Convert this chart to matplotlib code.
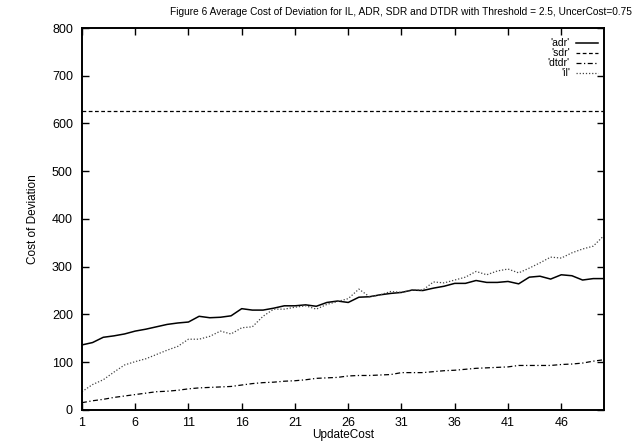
# plot.py
# Figura 6: costo promedio de desviación para IL, ADR, SDR y DTDR

import matplotlib
matplotlib.use("Agg")
import matplotlib.pyplot as plt

plt.rcParams["font.family"] = ["Liberation Sans", "DejaVu Sans"]

# ─── Datos ────────────────────────────────────────────────────────────────────

update_cost = list(range(1, 51))

adr = [136, 141, 152, 155, 159, 165, 169, 174, 179, 182,
       184, 196, 193, 194, 197, 212, 209, 209, 213, 218,
       218, 220, 217, 225, 228, 225, 236, 237, 241, 244,
       246, 251, 250, 255, 259, 265, 265, 271, 267, 267,
       269, 264, 278, 280, 274, 283, 281, 272, 275, 275]

sdr = [627] * 50

dtdr = [15, 19, 22, 26, 29, 32, 35, 38, 39, 41,
        44, 46, 47, 48, 49, 52, 55, 57, 58, 60,
        61, 63, 66, 67, 68, 71, 72, 72, 73, 74,
        78, 78, 78, 80, 82, 83, 85, 87, 88, 89,
        90, 93, 93, 93, 93, 95, 96, 98, 102, 105]

il = [38, 53, 63, 79, 94, 101, 107, 116, 125, 133,
      148, 148, 154, 165, 159, 172, 174, 196, 211, 211,
      215, 218, 211, 221, 227, 233, 253, 237, 241, 248,
      246, 251, 251, 268, 266, 272, 278, 290, 283, 291,
      295, 287, 297, 308, 320, 318, 329, 337, 343, 365]

xticks = list(range(1, 50, 5))
yticks = list(range(0, 801, 100))

# ─── Gráfica ──────────────────────────────────────────────────────────────────

fig = plt.figure(figsize=(6.35, 4.45), dpi=100)
ax = fig.add_axes([0.129, 0.079, 0.822, 0.858])

series = [
    ("'adr'",  adr,  dict(color="black", linestyle="-", linewidth=1.1)),
    ("'sdr'",  sdr,  dict(color="black", linestyle=(0, (3, 2)), linewidth=0.9)),
    ("'dtdr'", dtdr, dict(color="black", linestyle=(0, (4, 2, 1, 2)), linewidth=0.9)),
    ("'il'",   il,   dict(color="#444444", linestyle=(0, (1, 1.5)), linewidth=0.9)),
]

for nombre, valores, estilo in series:
    ax.plot(update_cost, valores, **estilo)

# Leyenda estilo gnuplot: texto alineado a la derecha, muestra a su lado
for i, (nombre, valores, estilo) in enumerate(series):
    y = 0.960 - i * 0.026
    ax.text(0.935, y, nombre, transform=ax.transAxes, ha="right", va="center", fontsize=7.5)
    ax.plot([0.946, 0.988], [y, y], transform=ax.transAxes, **estilo)

ax.set_xlim(1, 50)
ax.set_ylim(0, 800)
ax.set_xticks(xticks)
ax.set_yticks(yticks)
ax.tick_params(direction="in", length=5, width=1, top=True, right=True, labelsize=9)
ax.tick_params(axis="x", pad=5)
ax.tick_params(axis="y", pad=6.5)
for lado in ax.spines.values():
    lado.set_linewidth(1.4)

ax.set_xlabel("UpdateCost", fontsize=8.5, labelpad=0)
ax.set_ylabel("Cost of Deviation", fontsize=8.5, labelpad=9)

fig.text(0.632, 0.972,
         "Figure 6 Average Cost of Deviation for IL, ADR, SDR and DTDR with Threshold = 2.5, UncerCost=0.75",
         ha="center", va="center", fontsize=7.3)

fig.savefig("out.png", dpi=100)
